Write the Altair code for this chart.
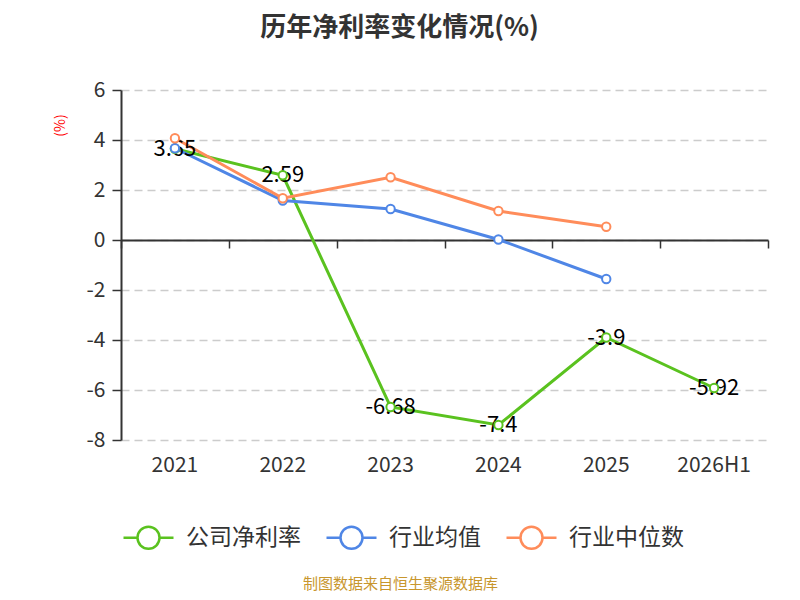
import altair as alt
import pandas as pd

years = ["2021", "2022", "2023", "2024", "2025", "2026H1"]
series_names = ["公司净利率", "行业均值", "行业中位数"]
company = [3.65, 2.59, -6.68, -7.4, -3.9, -5.92]
ind_mean = [3.67, 1.58, 1.24, 0.02, -1.56, None]
ind_median = [4.07, 1.67, 2.51, 1.16, 0.53, None]
colors = ["#5AC21F", "#4F86E6", "#FF8C5A"]
y_ticks = [6, 4, 2, 0, -2, -4, -6, -8]

rows = []
for name, vals in zip(series_names, [company, ind_mean, ind_median]):
    for yr, v in zip(years, vals):
        if v is not None:
            rows.append({"year": yr, "series": name, "value": v,
                         "label": f"{v:g}"})
df = pd.DataFrame(rows)

FONT = "Noto Sans CJK SC"
x_scale = alt.Scale(type="band", domain=years, paddingInner=0, paddingOuter=0)
y_scale = alt.Scale(domain=[-8, 6], nice=False, zero=False)
color_scale = alt.Scale(domain=series_names, range=colors)

sym_path = ("M-1,0L-0.44,0M0.44,0L1,0"
            "M-0.44,0A0.44,0.44,0,1,1,0.44,0A0.44,0.44,0,1,1,-0.44,0Z")

y_axis = alt.Axis(values=y_ticks, grid=True, gridColor="#cccccc",
                  gridDash=[8, 5], gridWidth=1.3, domain=True,
                  domainColor="#333333", domainWidth=2, ticks=True,
                  tickColor="#333333", tickSize=9, tickWidth=1.5,
                  labelFontSize=21, labelColor="#333333", labelFont=FONT,
                  labelPadding=7, labelExpr="'' + datum.value",
                  title="(%)", titleColor="#ff0000",
                  titleFontSize=14, titleFont=FONT, titleFontWeight="normal",
                  titleAngle=270, titleX=-61, titleY=35, titleAlign="center",
                  titleBaseline="middle")

x_axis_zero = alt.Axis(orient="bottom", offset=-200, labels=False,
                       domain=True, domainColor="#333333", domainWidth=2,
                       ticks=True, tickBand="extent", tickColor="#333333",
                       tickSize=8, tickWidth=1.5, grid=False, title=None)

x_axis_labels = alt.Axis(orient="bottom", labels=True, domain=False,
                         ticks=False, grid=False, labelAngle=0,
                         labelFontSize=21, labelColor="#333333",
                         labelFont=FONT, labelPadding=14,
                         title="制图数据来自恒生聚源数据库",
                         titleColor="#C8962D", titleFontSize=15,
                         titleFont=FONT, titleFontWeight="normal",
                         titleX=279, titleY=143, titleAlign="center",
                         titleBaseline="middle")

base = alt.Chart(df)

lines = base.mark_line(strokeWidth=3).encode(
    x=alt.X("year:N", scale=x_scale, axis=x_axis_zero, sort=years),
    y=alt.Y("value:Q", scale=y_scale, axis=y_axis),
    color=alt.Color("series:N", scale=color_scale, sort=series_names,
                    legend=alt.Legend(orient="none", direction="horizontal",
                                      legendX=1, legendY=421, title=None,
                                      symbolType=sym_path, symbolSize=2500,
                                      symbolStrokeWidth=2.5,
                                      symbolFillColor="white",
                                      labelFontSize=23, labelColor="#333333",
                                      labelFont=FONT, labelOffset=11,
                                      columnPadding=20)),
    detail="series:N",
)

labels = base.mark_text(fontSize=22, font=FONT, color="#000000",
                        align="center", baseline="middle").transform_filter(
    alt.datum.series == "公司净利率"
).encode(
    x=alt.X("year:N", scale=x_scale, axis=x_axis_labels, sort=years),
    y=alt.Y("value:Q", scale=y_scale),
    text="label:N",
)

points = base.mark_point(filled=True, fill="white", size=70,
                         strokeWidth=2, opacity=1).encode(
    x=alt.X("year:N", scale=x_scale, sort=years, axis=None),
    y=alt.Y("value:Q", scale=y_scale),
    stroke=alt.Stroke("series:N", scale=color_scale, legend=None),
)

chart = alt.layer(lines, labels, points).resolve_axis(
    x="independent"
).properties(
    width=647, height=350,
    autosize=alt.AutoSizeParams(type="none"),
    padding={"left": 113, "top": 82, "right": 24, "bottom": 152},
    title=alt.TitleParams("历年净利率变化情况(%)", fontSize=26,
                          fontWeight="bold", color="#333333", font=FONT,
                          anchor="middle", dx=-45, offset=38),
).configure_view(stroke=None)

chart.save("out.html", embed_options={"renderer": "svg", "actions": False})
